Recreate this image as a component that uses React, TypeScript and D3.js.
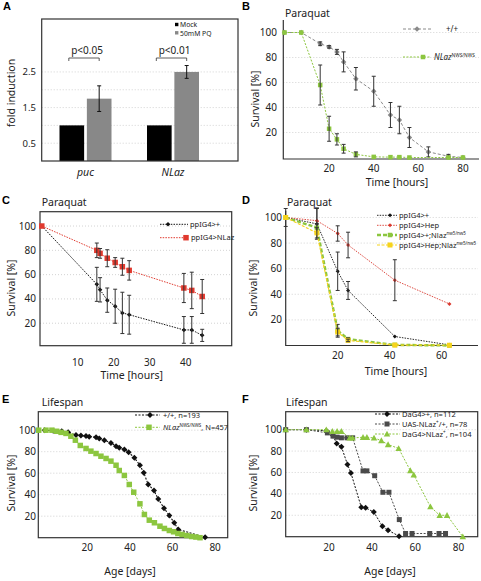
import React from "react";
import * as d3 from "d3";

const FONT = "'Noto Sans', 'DejaVu Sans', sans-serif";

// ---------------- Panel A data ----------------
const aGenes = ["puc", "NLaz"];
const aConditions = ["Mock", "50mM PQ"];
const aMock = [1.0, 1.0];
const aPQ = [1.75, 2.5];
const aPQErr = [0.36, 0.18];
const aPValues = ["p<0.05", "p<0.01"];
const aYTicks = [0.5, 1.5, 2.5];
const aGridVals = [0.5, 1, 1.5, 2, 2.5];

// ---------------- Panel B data ----------------
const bTime = [0, 7.5, 16, 20, 23.5, 26.5, 32, 40, 47.5, 51.5, 56, 64.5, 73.5, 80];
const bWT = [100, 100, 91, 88.5, 84.5, 76.5, 63, 53, 34, 30, 16, 4.5, 1, 0];
const bWTErr = [0, 0, 1.5, 1, 2, 8, 9, 12, 10, 11, 8, 4, 1.5, 0];
const bNLazTime = [0, 7.5, 16, 20, 23.5, 26.5, 32, 40, 47.5, 51.5, 56, 73.5, 80];
const bNLaz = [100, 100, 58, 23, 14.5, 7, 2.5, 0.5, 0.3, 0.3, 0, 0, 0];
const bNLazErr = [0, 0, 16, 10, 4.5, 3.5, 2, 0, 0, 0, 0, 0, 0];
const bXTicks = [20, 40, 60, 80];
const survTicks = [20, 40, 60, 80, 100];

// ---------------- Panel C data ----------------
const cTime = [0, 15.3, 16.2, 18.2, 20.4, 22.4, 24.3, 39.5, 41.7, 44.6];
const cCtrl = [100, 52, 47.5, 39, 34, 28.5, 27, 14.5, 14.5, 10];
const cCtrlErr = [0, 14, 10, 10, 14, 17, 16, 11, 11, 5];
const cNLaz = [100, 80, 77.5, 73.5, 70, 66.5, 63.5, 49, 47, 42];
const cNLazErr = [0, 6, 4, 7, 4, 7, 8, 12, 15, 14];
const cXTicks = [10, 20, 30, 40];

// ---------------- Panel D data ----------------
const dTime = [0, 12, 20, 24, 42, 63];
const dCtrl = [100, 95, 58, 43, 7, 0.5];
const dCtrlErr = [7, 12, 15, 7, 0, 0];
const dHep = [100, 97.5, 87.5, 78.5, 51, 32.5];
const dHepErr = [0, 10, 6, 10, 16, 0];
const dNlaz = [100, 92, 11.5, 5, 0.5, 0];
const dNlazErr = [0, 3, 5, 1, 0, 0];
const dHepNlaz = [100, 88, 10.5, 4, 0.3, 0.2];
const dHepNlazErr = [0, 4, 3, 1, 0, 0];
const dXTicks = [20, 40, 60];

// ---------------- Panel E data ----------------
const eWTAge = [0, 4, 8, 11, 14.7, 17, 19.4, 20.9, 24.1, 25.6, 28, 31.1, 33.5, 35, 37.4, 39.4, 42.1, 44.7, 46.5, 48.6, 51.3, 53.3, 56, 58.5, 60.8, 62.7, 75.3];
const eWT = [100, 99.5, 99, 98, 95.5, 95, 94.5, 94, 93.5, 92.3, 90.7, 88.2, 85.1, 83.6, 82, 79.5, 74.3, 67.4, 60.4, 49.5, 43.9, 36, 27.5, 20.7, 13.9, 7.6, 0.5];
const eNLazAge = [-2.8, 0.6, 3.4, 5.6, 7.7, 10, 12.3, 14.4, 16.7, 19.4, 21.7, 24.1, 26.4, 28.8, 31.1, 33.5, 35, 37.4, 39.7, 41.8, 44.7, 46.8, 49.1, 51.5, 54.1, 56.2, 58.5, 60.5, 62.5, 64.5, 66.7, 69, 71, 72.9];
const eNLaz = [100, 100, 100, 99, 98, 97, 94.4, 90.7, 85.8, 83, 80.5, 78.3, 75.8, 73.7, 71.2, 67.4, 62.5, 57.9, 49.5, 42.3, 31.5, 21.6, 16.3, 13.9, 10.7, 8.6, 6.7, 5.5, 3.9, 3, 2, 1.1, 0.6, 0];
const ageTicks = [20, 40, 60, 80];

// ---------------- Panel F data ----------------
const fCtrlAge = [0, 9.6, 18.8, 21.9, 23.6, 25.8, 28.6, 30.2, 35, 37, 40.8, 44.8, 47.4, 52.5];
const fCtrl = [100, 100, 99, 94.5, 87, 84, 67.5, 59.6, 27.5, 27, 23, 9.7, 6, 0.5];
const fUASAge = [0, 9.6, 19.3, 21.9, 23.8, 25.8, 28.4, 31, 35.8, 37.6, 41.2, 45, 47.8, 52.6, 55.5, 58.5, 66.7, 71, 74];
const fUAS = [100, 100, 97, 94, 93, 92.4, 92.4, 92.4, 61.5, 61.5, 57, 41.5, 41.5, 16, 3, 3, 3, 3, 3];
const fNLazAge = [0, 9.6, 18.8, 21.6, 23.8, 25.8, 29.6, 30.9, 35.8, 37.6, 40.9, 44.3, 47.4, 52.3, 57.7, 59.3, 67, 71.3, 74.7, 82];
const fNLaz = [100, 100, 100, 98.5, 98.5, 98.5, 92.3, 92.3, 92.9, 92.9, 92.3, 89.8, 86.1, 82.5, 61.8, 57.8, 28, 20, 20, 0];

// ---------------- helpers ----------------
type Seg = { t: string; sup?: boolean; it?: boolean };
type Series = {
  xs: number[];
  ys: number[];
  errs?: number[];
  color: string;
  lineColor?: string;
  marker: "diamond" | "square" | "triangle";
  ms: number;
  dash: string;
  lw: number;
  label: Seg[];
};
type LegendItem = { y: number; mx: number; tx: number };
type PanelCfg = {
  letter: string; letterX: number; letterY: number;
  title: string; titleX: number; titleY: number;
  left: number; right: number; top: number; bottom: number;
  xDomain: [number, number]; yDomain: [number, number];
  xTicks: number[]; yTicks: number[];
  box: boolean;
  xTickY: number; yTickX: number;
  xLabel: string; xLabelX: number; xLabelY: number;
  yLabel: string; yLabelX: number; yLabelY: number;
  legend: { x0: number; x1: number; fs: number; items: LegendItem[] };
  series: Series[];
};

function Marker({ kind, x, y, s, color }: { kind: string; x: number; y: number; s: number; color: string }) {
  if (kind === "square") return <rect x={x - s / 2} y={y - s / 2} width={s} height={s} fill={color} />;
  if (kind === "diamond") {
    const h = s / 2;
    return <path d={`M${x},${y - h}L${x + h},${y}L${x},${y + h}L${x - h},${y}Z`} fill={color} />;
  }
  const h = s / 2;
  return <path d={`M${x},${y - h}L${x + h},${y + h * 0.8}L${x - h},${y + h * 0.8}Z`} fill={color} />;
}

function RichText({ x, y, segs, fs }: { x: number; y: number; segs: Seg[]; fs: number }) {
  return (
    <text x={x} y={y + fs * 0.36} fontSize={fs} fontFamily={FONT} fill="#222">
      {segs.map((s, i) => {
        const prevSup = i > 0 && segs[i - 1].sup;
        if (s.sup)
          return (
            <tspan key={i} fontSize={fs * 0.6} dy={-fs * 0.4}>
              {s.t}
            </tspan>
          );
        return (
          <tspan key={i} fontStyle={s.it ? "italic" : undefined} dy={prevSup ? fs * 0.4 : 0}>
            {s.t}
          </tspan>
        );
      })}
    </text>
  );
}

function LinePanel({ c }: { c: PanelCfg }) {
  const x = d3.scaleLinear().domain(c.xDomain).range([c.left, c.right]);
  const y = d3.scaleLinear().domain(c.yDomain).range([c.bottom, c.top]);
  const line = d3
    .line<[number, number]>()
    .x((d) => x(d[0]))
    .y((d) => y(d[1]));
  return (
    <g>
      <text x={c.letterX} y={c.letterY} fontSize={11} fontWeight="bold" fontFamily="'Liberation Sans', Arial, sans-serif">
        {c.letter}
      </text>
      <text x={c.titleX} y={c.titleY} fontSize={10.5} fontFamily={FONT} fill="#222">
        {c.title}
      </text>
      {c.yTicks.map((t) => (
        <line key={"g" + t} x1={c.left} x2={c.right} y1={y(t)} y2={y(t)} stroke="#c8c8c8" strokeWidth={0.8} strokeDasharray="1,2" />
      ))}
      {c.box ? (
        <rect x={c.left} y={c.top} width={c.right - c.left} height={c.bottom - c.top} fill="none" stroke="#333" strokeWidth={1.2} />
      ) : (
        <path d={`M${c.left},${c.top}V${c.bottom}H${c.right}`} fill="none" stroke="#333" strokeWidth={1.2} />
      )}
      {c.yTicks.map((t) => (
        <text key={"yt" + t} x={c.yTickX} y={y(t)} dy="0.35em" fontSize={10} textAnchor="end" fontFamily={FONT} fill="#222">
          {t}
        </text>
      ))}
      {c.xTicks.map((t) => (
        <text key={"xt" + t} x={x(t)} y={c.xTickY} fontSize={10} textAnchor="middle" fontFamily={FONT} fill="#222">
          {t}
        </text>
      ))}
      <text x={c.xLabelX} y={c.xLabelY} fontSize={10.5} textAnchor="middle" fontFamily={FONT} fill="#222">
        {c.xLabel}
      </text>
      <text
        transform={`translate(${c.yLabelX},${c.yLabelY}) rotate(-90)`}
        fontSize={10.5}
        textAnchor="middle"
        dy="0.35em"
        fontFamily={FONT}
        fill="#222"
      >
        {c.yLabel}
      </text>
      {c.series.map((s, si) => {
        const pts = s.xs.map((v, i) => [v, s.ys[i]] as [number, number]);
        return (
          <g key={"s" + si}>
            <path d={line(pts) || ""} fill="none" stroke={s.lineColor || s.color} strokeWidth={s.lw} strokeDasharray={s.dash} />
            {pts.map((p, i) => (
              <Marker key={i} kind={s.marker} x={x(p[0])} y={y(p[1])} s={s.ms} color={s.color} />
            ))}
            {s.errs &&
              pts.map((p, i) => {
                const e = s.errs![i];
                if (!e) return null;
                const cx = x(p[0]);
                const y1 = y(p[1] - e);
                const y2 = y(p[1] + e);
                return (
                  <g key={"e" + i} stroke="#333" strokeWidth={1}>
                    <line x1={cx} x2={cx} y1={y1} y2={y2} />
                    <line x1={cx - 2} x2={cx + 2} y1={y1} y2={y1} />
                    <line x1={cx - 2} x2={cx + 2} y1={y2} y2={y2} />
                  </g>
                );
              })}
          </g>
        );
      })}
      {c.series.map((s, si) => {
        const it = c.legend.items[si];
        return (
          <g key={"l" + si}>
            <line x1={c.legend.x0} x2={c.legend.x1} y1={it.y} y2={it.y} stroke={s.lineColor || s.color} strokeWidth={s.lw} strokeDasharray={s.dash} />
            <Marker kind={s.marker} x={it.mx} y={it.y} s={s.ms} color={s.color} />
            <RichText x={it.tx} y={it.y} segs={s.label} fs={c.legend.fs} />
          </g>
        );
      })}
    </g>
  );
}

const GREEN = "#8cc63f";

const panelB: PanelCfg = {
  letter: "B", letterX: 242, letterY: 10,
  title: "Paraquat", titleX: 285, titleY: 17,
  left: 283.3, right: 479, top: 20, bottom: 159,
  xDomain: [-0.54, 87.2], yDomain: [-1.2, 110],
  xTicks: bXTicks, yTicks: survTicks, box: false,
  xTickY: 171.5, yTickX: 277,
  xLabel: "Time [hours]", xLabelX: 397, xLabelY: 186,
  yLabel: "Survival [%]", yLabelX: 255, yLabelY: 99,
  legend: {
    x0: 403, x1: 431, fs: 8,
    items: [
      { y: 29, mx: 417, tx: 446 },
      { y: 57, mx: 423, tx: 434 },
    ],
  },
  series: [
    { xs: bTime, ys: bWT, errs: bWTErr, color: "#8a8a8a", marker: "diamond", ms: 5.5, dash: "3,2", lw: 1, label: [{ t: "+/+" }] },
    {
      xs: bNLazTime, ys: bNLaz, errs: bNLazErr, color: GREEN, marker: "square", ms: 4.5, dash: "2,1.5", lw: 1,
      label: [{ t: "NLaz", it: true }, { t: "NWS/NWS", sup: true }],
    },
  ],
};

const panelC: PanelCfg = {
  letter: "C", letterX: 2, letterY: 204,
  title: "Paraquat", titleX: 41.7, titleY: 206,
  left: 40, right: 231.7, top: 211.7, bottom: 345.7,
  xDomain: [-0.5, 52.8], yDomain: [1.5, 111.8],
  xTicks: cXTicks, yTicks: survTicks, box: true,
  xTickY: 365.5, yTickX: 36,
  xLabel: "Time [hours]", xLabelX: 131.7, xLabelY: 378.5,
  yLabel: "Survival [%]", yLabelX: 11, yLabelY: 288,
  legend: {
    x0: 160, x1: 188, fs: 7.5,
    items: [
      { y: 224.3, mx: 168, tx: 190 },
      { y: 237.7, mx: 186, tx: 191 },
    ],
  },
  series: [
    { xs: cTime, ys: cCtrl, errs: cCtrlErr, color: "#111", marker: "diamond", ms: 4.5, dash: "1.5,1.2", lw: 1, label: [{ t: "ppIG4>+" }] },
    { xs: cTime, ys: cNLaz, errs: cNLazErr, color: "#e0392e", marker: "square", ms: 5.5, dash: "1.5,1.2", lw: 1, label: [{ t: "ppIG4>NLaz" }] },
  ],
};

const panelD: PanelCfg = {
  letter: "D", letterX: 242, letterY: 204,
  title: "Paraquat", titleX: 287, titleY: 206,
  left: 285.7, right: 478, top: 210.7, bottom: 345.5,
  xDomain: [0, 74], yDomain: [0, 105.3],
  xTicks: dXTicks, yTicks: survTicks, box: false,
  xTickY: 358.5, yTickX: 282,
  xLabel: "Time [hours]", xLabelX: 396, xLabelY: 375,
  yLabel: "Survival [%]", yLabelX: 253, yLabelY: 288,
  legend: {
    x0: 377, x1: 397, fs: 7.5,
    items: [
      { y: 215.3, mx: 390, tx: 399 },
      { y: 225.3, mx: 390, tx: 399 },
      { y: 235, mx: 390, tx: 399 },
      { y: 245, mx: 390, tx: 399 },
    ],
  },
  series: [
    { xs: dTime, ys: dCtrl, errs: dCtrlErr, color: "#111", marker: "diamond", ms: 4, dash: "1.5,1.2", lw: 0.9, label: [{ t: "ppIG4>+" }] },
    { xs: dTime, ys: dHep, errs: dHepErr, color: "#d9382e", marker: "diamond", ms: 4, dash: "1.5,1.2", lw: 0.9, label: [{ t: "ppIG4>Hep" }] },
    {
      xs: dTime, ys: dNlaz, errs: dNlazErr, color: GREEN, marker: "square", ms: 4.5, dash: "4,2", lw: 2.4,
      label: [{ t: "ppIG4>+;Nlaz" }, { t: "nw5/nw5", sup: true }],
    },
    {
      xs: dTime, ys: dHepNlaz, errs: dHepNlazErr, color: "#f6d31c", marker: "square", ms: 5, dash: "3,1.5", lw: 1.2,
      label: [{ t: "ppIG4>Hep;Nlaz" }, { t: "nw5/nw5", sup: true }],
    },
  ],
};

const panelE: PanelCfg = {
  letter: "E", letterX: 2, letterY: 403,
  title: "Lifespan", titleX: 41.7, titleY: 405.5,
  left: 38.3, right: 227.7, top: 411.7, bottom: 537.7,
  xDomain: [-3, 85.9], yDomain: [0, 117.2],
  xTicks: ageTicks, yTicks: survTicks, box: true,
  xTickY: 550.5, yTickX: 36,
  xLabel: "Age [days]", xLabelX: 130, xLabelY: 575,
  yLabel: "Survival [%]", yLabelX: 11, yLabelY: 483,
  legend: {
    x0: 135, x1: 160, fs: 7.5,
    items: [
      { y: 415, mx: 150, tx: 163 },
      { y: 427.3, mx: 149, tx: 163 },
    ],
  },
  series: [
    { xs: eWTAge, ys: eWT, color: "#111", marker: "diamond", ms: 6, dash: "2,1.5", lw: 1.1, label: [{ t: "+/+, n=193" }] },
    {
      xs: eNLazAge, ys: eNLaz, color: GREEN, marker: "square", ms: 5.5, dash: "2,1.5", lw: 1,
      label: [{ t: "NLaz", it: true }, { t: "NWS/NWS", sup: true }, { t: ", N=457" }],
    },
  ],
};

const panelF: PanelCfg = {
  letter: "F", letterX: 242, letterY: 403,
  title: "Lifespan", titleX: 286, titleY: 405.5,
  left: 285.7, right: 477.7, top: 411.7, bottom: 536.7,
  xDomain: [0, 88.9], yDomain: [0, 116.8],
  xTicks: ageTicks, yTicks: survTicks, box: true,
  xTickY: 550.5, yTickX: 282,
  xLabel: "Age [days]", xLabelX: 390, xLabelY: 575,
  yLabel: "Survival [%]", yLabelX: 253, yLabelY: 483,
  legend: {
    x0: 375, x1: 400, fs: 7.5,
    items: [
      { y: 414, mx: 387, tx: 402 },
      { y: 424, mx: 387, tx: 402 },
      { y: 434, mx: 387, tx: 402 },
    ],
  },
  series: [
    { xs: fCtrlAge, ys: fCtrl, color: "#111", marker: "diamond", ms: 6, dash: "2,1.5", lw: 1, label: [{ t: "DaG4>+, n=112" }] },
    {
      xs: fUASAge, ys: fUAS, color: "#4a4a4a", marker: "square", ms: 5, dash: "2,1.5", lw: 1,
      label: [{ t: "UAS-NLaz" }, { t: "+", sup: true }, { t: "/+, n=78" }],
    },
    {
      xs: fNLazAge, ys: fNLaz, color: GREEN, marker: "triangle", ms: 6.5, dash: "2,1.5", lw: 1,
      label: [{ t: "DaG4>NLaz" }, { t: "+", sup: true }, { t: ", n=104" }],
    },
  ],
};

function BarPanel() {
  const left = 41.7, right = 238, top = 19, bottom = 161;
  const y = d3.scaleLinear().domain([0, 4]).range([bottom, top - 0.5]);
  const xg = d3.scalePoint<string>().domain(aGenes).range([85.5, 173]);
  const xs = d3.scaleBand<string>().domain(aConditions).range([-26, 26]).paddingInner(0.1);
  const bw = xs.bandwidth();
  const vals = [aMock, aPQ];
  const colors = ["#000", "#888"];
  return (
    <g>
      <text x={3} y={10} fontSize={11} fontWeight="bold" fontFamily="'Liberation Sans', Arial, sans-serif">
        A
      </text>
      {aGridVals.map((g) => (
        <line key={g} x1={left} x2={right} y1={y(g)} y2={y(g)} stroke="#c8c8c8" strokeWidth={0.8} strokeDasharray="1,2" />
      ))}
      {aGenes.map((gene, gi) => (
        <g key={gene}>
          {aConditions.map((cond, ci) => {
            const x0 = (xg(gene) as number) + (xs(cond) as number);
            const v = vals[ci][gi];
            return <rect key={cond} x={x0} y={y(v)} width={bw} height={y(0) - y(v)} fill={colors[ci]} />;
          })}
          {(() => {
            const cx = (xg(gene) as number) + (xs(aConditions[1]) as number) + bw / 2;
            const y1 = y(aPQ[gi] - aPQErr[gi]);
            const y2 = y(aPQ[gi] + aPQErr[gi]);
            return (
              <g stroke="#111" strokeWidth={1}>
                <line x1={cx} x2={cx} y1={y1} y2={y2} />
                <line x1={cx - 2} x2={cx + 2} y1={y1} y2={y1} />
                <line x1={cx - 2} x2={cx + 2} y1={y2} y2={y2} />
              </g>
            );
          })()}
          {(() => {
            const bx1 = (xg(gene) as number) + (xs(aConditions[0]) as number) + bw / 2 - 3;
            const bx2 = (xg(gene) as number) + (xs(aConditions[1]) as number) + bw / 2;
            const by = 58;
            return (
              <g>
                <path d={`M${bx1},${by + 3}V${by}H${bx2}V${by + 3}`} fill="none" stroke="#333" strokeWidth={0.8} />
                <text x={(bx1 + bx2) / 2 + 3} y={54} fontSize={10} textAnchor="middle" fontFamily={FONT} fill="#222">
                  {aPValues[gi]}
                </text>
              </g>
            );
          })()}
          <text x={xg(gene) as number} y={175.5} fontSize={10.5} fontStyle="italic" textAnchor="middle" fontFamily={FONT} fill="#222">
            {gene}
          </text>
        </g>
      ))}
      <rect x={left} y={top} width={right - left} height={bottom - top} fill="none" stroke="#333" strokeWidth={1.2} />
      {aYTicks.map((t) => (
        <text key={t} x={36} y={y(t)} dy="0.35em" fontSize={9.5} textAnchor="end" fontFamily={FONT} fill="#222">
          {t}
        </text>
      ))}
      <text transform="translate(11,93) rotate(-90)" fontSize={10.5} textAnchor="middle" dy="0.35em" fontFamily={FONT} fill="#222">
        fold induction
      </text>
      {aConditions.map((cond, ci) => (
        <g key={cond}>
          <rect x={175} y={22.8 + ci * 8.3} width={3.4} height={3.4} fill={colors[ci]} />
          <text x={180} y={27.3 + ci * 8.3} fontSize={6.8} fontFamily={FONT} fill="#222">
            {cond}
          </text>
        </g>
      ))}
    </g>
  );
}

export default function App() {
  const panels = [panelB, panelC, panelD, panelE, panelF];
  return (
    <svg width={481} height={581} style={{ position: "absolute", left: 0, top: 0, background: "#fff" }}>
      <rect width={481} height={581} fill="#fff" />
      <BarPanel />
      {panels.map((p) => (
        <LinePanel key={p.letter} c={p} />
      ))}
    </svg>
  );
}
